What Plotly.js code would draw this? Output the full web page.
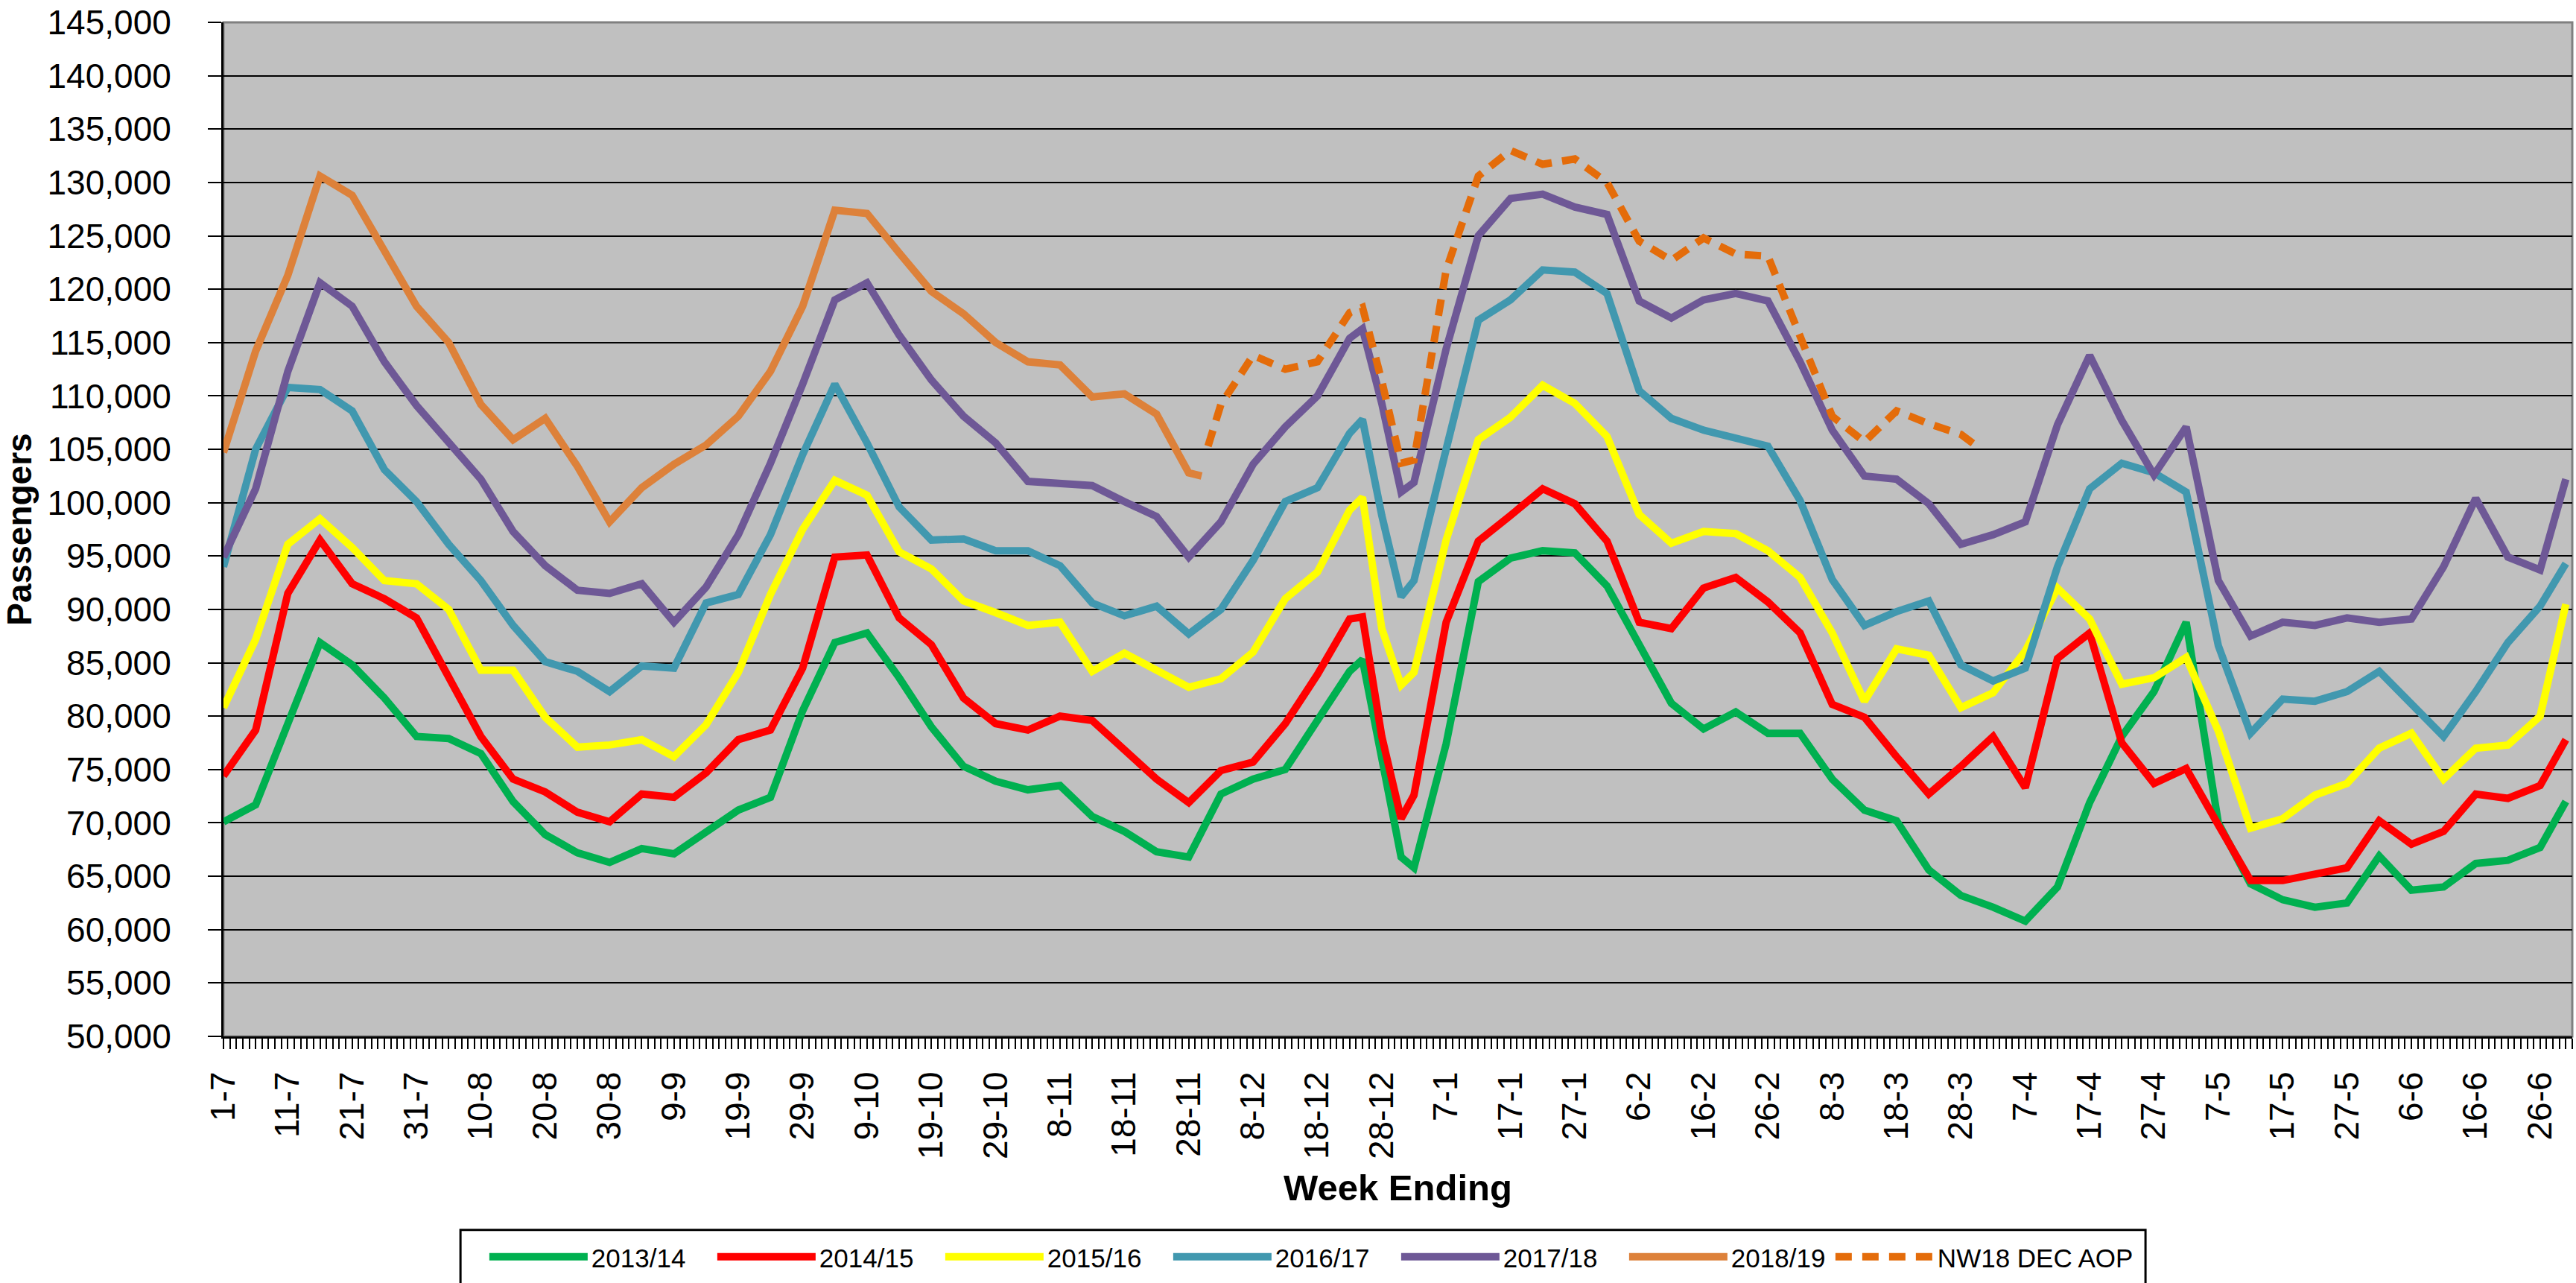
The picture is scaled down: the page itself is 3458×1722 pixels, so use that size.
<!DOCTYPE html>
<html>
<head>
<meta charset="utf-8">
<script src="https://cdn.plot.ly/plotly-3.0.1.min.js"></script>
<style>
html,body{margin:0;padding:0;background:#ffffff;}
#chart{width:3458px;height:1722px;}
</style>
</head>
<body>
<div id="chart"></div>
<script>
// ---------------- DATA ----------------
// x = day of the financial year (0 = 1 July)
const days = [0,5,10,15,20,25,30,35,40,45,50,55,60,65,70,75,80,85,90,95,100,105,110,115,120,125,130,135,140,145,150,155,160,165,170,175,177,180,183,185,190,195,200,205,210,215,220,225,230,235,240,245,250,255,260,265,270,275,280,285,290,295,300,305,310,315,320,325,330,335,340,345,350,355,360,364];

const fy1314 = [70100,71700,79300,86900,84800,81700,78100,77900,76500,72000,68900,67200,66300,67600,67100,69200,71200,72400,80500,86900,87800,83600,79000,75300,73900,73100,73500,70600,69200,67300,66800,72700,74100,75000,79600,84200,85300,75700,66800,65800,77400,92600,94800,95500,95300,92200,86700,81200,78800,80400,78400,78400,74100,71200,70200,65600,63200,62100,60800,64000,71900,78100,82300,88800,70000,64300,62800,62100,62500,66900,63700,64000,66200,66500,67700,72000];

const fy1415 = [74400,78700,91500,96500,92400,91000,89200,83600,78100,74100,72900,71000,70100,72700,72400,74700,77800,78700,84500,94900,95100,89200,86700,81700,79300,78700,80000,79600,76800,74100,71900,74900,75700,79300,83900,89100,89300,78100,70400,72600,88800,96400,98800,101300,99900,96400,88800,88200,92000,93000,90700,87800,81100,79900,76200,72700,75300,78100,73300,85400,87800,77500,73700,75100,69800,64600,64600,65200,65800,70200,68000,69200,72700,72300,73500,77800];

const fy1516 = [80800,87200,96100,98500,95800,92700,92400,90000,84300,84300,79900,77100,77300,77800,76200,79200,84100,91400,97500,102100,100700,95400,93800,90800,89700,88500,88800,84200,85900,84300,82700,83500,86000,91000,93500,99300,100500,88200,82900,84100,96500,105900,108000,111000,109300,106200,98900,96200,97300,97100,95500,93000,87800,81400,86300,85700,80800,82200,86100,92000,89100,83000,83600,85500,78600,69500,70400,72600,73700,77000,78400,74100,77000,77300,80000,90500];

const fy1617 = [94000,105000,110800,110600,108600,103100,100100,96100,92700,88500,85100,84200,82300,84700,84500,90600,91400,97000,104500,111100,105600,99600,96500,96600,95500,95500,94100,90600,89400,90300,87700,90000,94600,100100,101400,106500,107800,98800,91200,92700,105000,117100,119000,121800,121600,119600,110500,107900,106800,106100,105300,100200,92800,88500,89800,90800,84800,83300,84500,94000,101300,103700,102800,101000,86600,78400,81600,81400,82300,84200,81100,78100,82300,86900,90300,94300];

const fy1718 = [94900,101300,112300,120600,118400,113200,109100,105700,102200,97300,94100,91800,91500,92400,88800,92100,97000,103700,111100,119000,120600,115700,111500,108100,105600,102000,101800,101600,100100,98700,94900,98200,103600,107100,110000,115400,116300,109300,101000,101900,114400,125000,128500,128900,127700,127000,118900,117300,119000,119600,118900,113200,106800,102500,102200,99900,96100,97000,98200,107300,113800,107700,102600,107100,92700,87500,88800,88500,89200,88800,89100,94000,100400,94900,93700,102200];

// 2018/19 actuals (to end of November)
const days1819 = [0,5,10,15,20,25,30,35,40,45,50,55,60,65,70,75,80,85,90,95,100,105,110,115,120,125,130,135,140,145,150,152];
const fy1819 = [104700,114200,121300,130600,128800,123600,118400,115000,109200,105900,107900,103400,98200,101400,103600,105400,108100,112300,118400,127400,127100,123400,119800,117700,115000,113200,112900,109900,110200,108300,102800,102500];

// NW18 December AOP (forecast)
const daysAop = [153,155,160,165,170,175,177,180,183,185,190,195,200,205,210,215,220,225,230,235,240,245,250,255,260,265,270,272];
const aop = [105300,109200,113800,112500,113200,117800,118300,111400,103700,104000,121800,130600,133000,131700,132200,130000,124500,122700,124800,123300,123100,115400,108100,105700,108600,107400,106400,105500];

const seriesNames = ['2013/14','2014/15','2015/16','2016/17','2017/18','2018/19','NW18 DEC AOP'];

// Tick labels every 10 days
const tickDays = [0,10,20,30,40,50,60,70,80,90,100,110,120,130,140,150,160,170,180,190,200,210,220,230,240,250,260,270,280,290,300,310,320,330,340,350,360];
const tickLabels = ['1-7','11-7','21-7','31-7','10-8','20-8','30-8','9-9','19-9','29-9','9-10','19-10','29-10','8-11','18-11','28-11','8-12','18-12','28-12','7-1','17-1','27-1','6-2','16-2','26-2','8-3','18-3','28-3','7-4','17-4','27-4','7-5','17-5','27-5','6-6','16-6','26-6'];

// ---------------- STYLE ----------------
const colors = ['#00B050','#FF0000','#FFFF00','#4198AF','#6E5896','#DD813A','#E46C0A'];
const FONT = 'Liberation Sans, Arial, Helvetica, sans-serif';
const LW = 10;

const xs = [days, days, days, days, days, days1819, daysAop];
const ys = [fy1314, fy1415, fy1516, fy1617, fy1718, fy1819, aop];

const traces = ys.map((y, i) => ({
  type: 'scatter',
  mode: 'lines',
  name: seriesNames[i],
  x: xs[i],
  y: y,
  legend: i === 6 ? 'legend2' : 'legend',
  line: {
    color: colors[i],
    width: LW,
    dash: i === 6 ? '22px,14px' : 'solid'
  },
  hoverinfo: 'x+y+name'
}));

const legendFont = {family: FONT, size: 35, color: '#000000'};

const layout = {
  width: 3458,
  height: 1722,
  paper_bgcolor: '#ffffff',
  plot_bgcolor: '#C0C0C0',
  margin: {l: 300, r: 5, t: 30, b: 324, pad: 0},
  font: {family: FONT, color: '#000000', size: 46},
  showlegend: true,
  legend: {
    orientation: 'h',
    x: 0.1116, xanchor: 'left',
    y: -0.1959, yanchor: 'top',
    bgcolor: 'rgba(0,0,0,0)',
    borderwidth: 0,
    font: legendFont,
    itemwidth: 132,
    entrywidth: 159,
    entrywidthmode: 'pixels',
    traceorder: 'normal'
  },
  legend2: {
    orientation: 'h',
    x: 0.6847, xanchor: 'left',
    y: -0.1959, yanchor: 'top',
    bgcolor: 'rgba(0,0,0,0)',
    borderwidth: 0,
    font: legendFont,
    itemwidth: 132
  },
  xaxis: {
    range: [0, 365],
    tickmode: 'array',
    tickvals: tickDays,
    ticktext: tickLabels,
    tickangle: -90,
    ticks: 'outside',
    ticklen: 14,
    tickwidth: 2,
    tickcolor: '#000000',
    ticklabelstandoff: 12,
    ticklabeloverflow: 'allow',
    tickfont: {family: FONT, size: 46, color: '#000000'},
    minor: {tickmode: 'linear', tick0: 0, dtick: 1, ticks: 'outside', ticklen: 14, tickwidth: 2, tickcolor: '#000000', showgrid: false},
    showgrid: false,
    zeroline: false,
    showline: true,
    linecolor: '#000000',
    linewidth: 3,
    automargin: false,
    title: {text: 'Week Ending', font: {family: FONT, size: 49, color: '#000000', weight: 'bold'}, standoff: 22}
  },
  yaxis: {
    range: [50000, 145000],
    tickmode: 'linear',
    tick0: 50000,
    dtick: 5000,
    tickformat: ',d',
    ticks: 'outside',
    ticklen: 18,
    tickwidth: 2,
    tickcolor: '#000000',
    ticklabelstandoff: 40,
    ticklabeloverflow: 'allow',
    tickfont: {family: FONT, size: 46, color: '#000000'},
    showgrid: true,
    gridcolor: '#000000',
    gridwidth: 2,
    zeroline: false,
    showline: true,
    linecolor: '#000000',
    linewidth: 3,
    automargin: false,
    title: {text: 'Passengers', font: {family: FONT, size: 46, color: '#000000', weight: 'bold'}, standoff: 10}
  },
  shapes: [
    {
      type: 'rect', xref: 'paper', yref: 'paper', x0: 0, x1: 1, y0: 0, y1: 1,
      line: {color: '#808080', width: 3}, fillcolor: 'rgba(0,0,0,0)', layer: 'below'
    },
    {
      // legend frame enclosing both legend groups
      type: 'rect', xref: 'paper', yref: 'paper',
      x0: 0.1009, x1: 0.8183, y0: -0.1908, y1: -0.30,
      line: {color: '#000000', width: 3}, fillcolor: 'rgba(0,0,0,0)', layer: 'above'
    }
  ]
};

Plotly.newPlot('chart', traces, layout, {displayModeBar: false, responsive: false, staticPlot: true});
</script>
</body>
</html>
